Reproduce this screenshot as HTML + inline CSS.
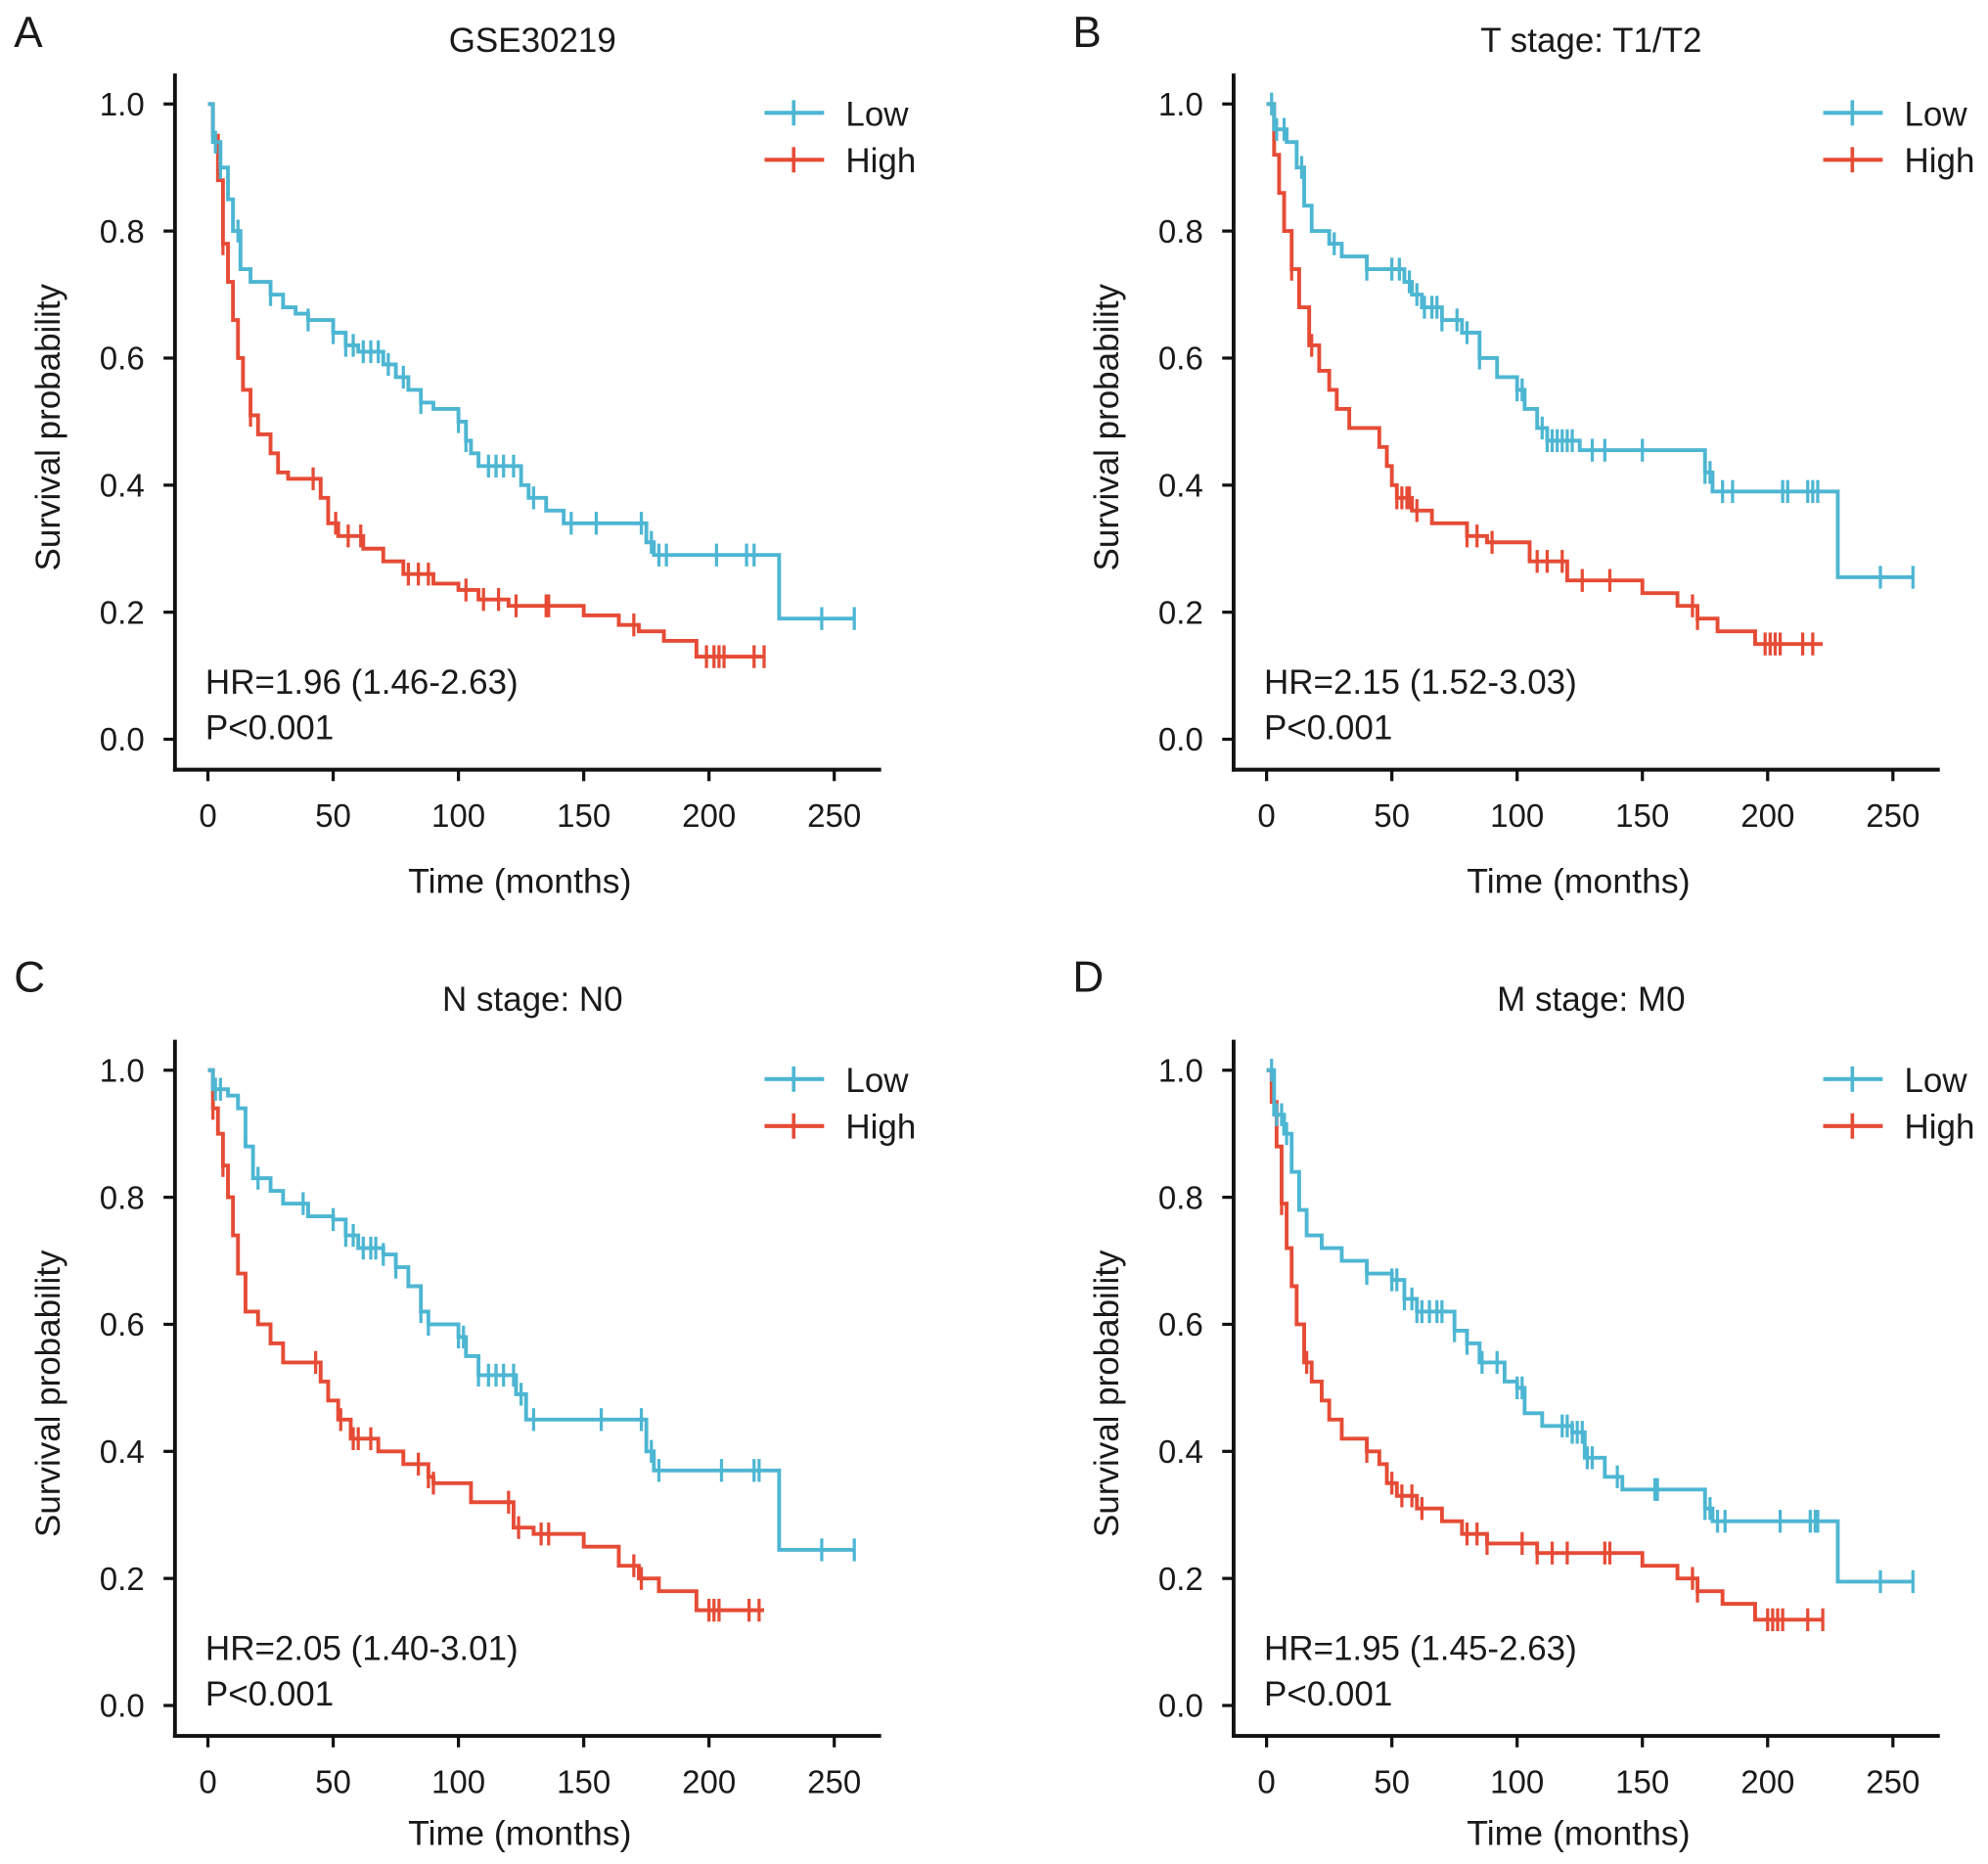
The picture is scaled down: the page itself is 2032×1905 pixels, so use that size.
<!DOCTYPE html>
<html><head><meta charset="utf-8"><style>
html,body{margin:0;padding:0;background:#fff;}
svg{display:block;}
text{font-family:"Liberation Sans",Arial,sans-serif;fill:#1a1a1a;}
</style></head><body>
<svg id="fig" width="2032" height="1905" viewBox="0 0 1568 1470" preserveAspectRatio="none" xmlns="http://www.w3.org/2000/svg"></svg>
<script>
// ---- data (time in months, survival probability) ----
const xTicks = [0,50,100,150,200,250];
const yTicks = [0.0,0.2,0.4,0.6,0.8,1.0];
const panelLetters = ["A","B","C","D"];
const panelTitles = ["GSE30219","T stage: T1/T2","N stage: N0","M stage: M0"];
const hrLabels = ["HR=1.96 (1.46-2.63)","HR=2.15 (1.52-3.03)","HR=2.05 (1.40-3.01)","HR=1.95 (1.45-2.63)"];
const pLabels = ["P<0.001","P<0.001","P<0.001","P<0.001"];

const aLowT = [0,2,5,8,10,13,17,25,30,35,40,50,55,60,70,75,80,85,90,100,103,105,108,125,128,135,142,175,178,228];
const aLowS = [1,0.94,0.90,0.85,0.80,0.74,0.72,0.70,0.68,0.67,0.66,0.64,0.62,0.61,0.59,0.57,0.55,0.53,0.52,0.50,0.47,0.45,0.43,0.40,0.38,0.36,0.34,0.31,0.29,0.19];
const aLowEnd = 258;
const aLowC = [3,5,12,25,40,50,55,58,62,65,68,72,78,85,100,103,112,115,118,122,130,145,155,173,177,180,183,203,215,218,245,258];
const aHighT = [0,2,4,6,8,10,12,14,17,20,25,28,32,45,48,52,62,70,78,90,100,108,120,150,164,172,182,195];
const aHighS = [1,0.95,0.88,0.78,0.72,0.66,0.60,0.55,0.51,0.48,0.45,0.42,0.41,0.38,0.34,0.32,0.30,0.28,0.26,0.245,0.235,0.22,0.21,0.195,0.18,0.17,0.155,0.13];
const aHighEnd = 222;
const aHighC = [6,17,42,51,56,61,80,84,88,103,110,116,123,135,136,170,199,202,204,206,218,222];

const bLowT = [0,3,8,12,15,18,25,30,40,55,58,62,70,78,85,92,100,103,108,112,125,175,178,228];
const bLowS = [1,0.96,0.94,0.90,0.84,0.80,0.78,0.76,0.74,0.72,0.70,0.68,0.66,0.64,0.60,0.57,0.55,0.52,0.49,0.47,0.455,0.42,0.39,0.255];
const bLowEnd = 258;
const bLowC = [2,4,7,14,27,40,50,53,57,60,63,66,68,70,76,80,85,100,102,110,112,114,116,118,120,122,130,135,150,175,177,182,186,206,208,216,218,220,245,258];
const bHighT = [0,3,5,7,10,13,17,21,25,28,33,45,48,50,52,58,66,80,88,105,120,150,164,172,180,195];
const bHighS = [1,0.92,0.86,0.80,0.74,0.68,0.62,0.58,0.55,0.52,0.49,0.46,0.43,0.40,0.38,0.36,0.34,0.32,0.31,0.28,0.25,0.23,0.21,0.19,0.17,0.15];
const bHighEnd = 222;
const bHighC = [10,18,52,54,56,57,60,80,84,90,108,112,118,126,137,170,172,199,201,203,205,214,218];

const cLowT = [0,2,8,12,15,18,25,30,40,50,55,60,70,75,80,85,88,100,103,108,123,127,175,178,228];
const cLowS = [1,0.97,0.96,0.94,0.88,0.83,0.81,0.79,0.77,0.765,0.74,0.72,0.71,0.69,0.66,0.62,0.60,0.58,0.55,0.52,0.49,0.45,0.40,0.37,0.245];
const cLowEnd = 258;
const cLowC = [3,5,20,38,50,55,58,62,65,67,70,75,85,88,100,102,108,112,115,118,122,125,130,157,173,177,180,205,218,220,245,258];
const cHighT = [0,2,4,6,8,10,12,15,20,25,30,45,48,52,57,68,78,88,90,105,122,130,150,164,172,180,195];
const cHighS = [1,0.94,0.90,0.85,0.80,0.74,0.68,0.62,0.60,0.57,0.54,0.51,0.48,0.45,0.42,0.40,0.38,0.36,0.35,0.32,0.28,0.27,0.25,0.22,0.20,0.18,0.15];
const cHighEnd = 222;
const cHighC = [2,6,43,53,58,60,65,84,88,90,120,124,133,136,170,173,200,202,204,216,220];

const dLowT = [0,3,7,10,13,16,22,30,40,50,55,60,75,80,85,95,100,103,110,122,127,135,142,175,178,228];
const dLowS = [1,0.93,0.90,0.84,0.78,0.74,0.72,0.70,0.68,0.67,0.64,0.62,0.59,0.57,0.54,0.51,0.50,0.46,0.44,0.43,0.39,0.36,0.34,0.31,0.29,0.195];
const dLowEnd = 258;
const dLowC = [2,4,6,8,40,50,52,55,58,60,62,65,68,70,75,80,86,92,100,102,118,120,122,124,126,128,130,140,155,156,175,177,180,183,205,217,219,220,245,258];
const dHighT = [0,2,4,6,8,10,12,15,18,22,25,30,40,45,48,52,60,70,78,88,108,150,164,172,182,195];
const dHighS = [1,0.95,0.88,0.79,0.72,0.66,0.60,0.54,0.51,0.48,0.45,0.42,0.40,0.38,0.35,0.33,0.31,0.29,0.27,0.255,0.24,0.22,0.20,0.18,0.16,0.135];
const dHighEnd = 222;
const dHighC = [6,16,40,50,54,58,62,80,84,88,102,108,114,120,135,137,170,172,200,202,204,206,216,222];

const lowSeries = [[aLowT,aLowS,aLowEnd,aLowC],[bLowT,bLowS,bLowEnd,bLowC],[cLowT,cLowS,cLowEnd,cLowC],[dLowT,dLowS,dLowEnd,dLowC]];
const highSeries = [[aHighT,aHighS,aHighEnd,aHighC],[bHighT,bHighS,bHighEnd,bHighC],[cHighT,cHighS,cHighEnd,cHighC],[dHighT,dHighS,dHighEnd,dHighC]];

// ---- layout ----
const LOW = "#4db6d3", HIGH = "#e64b35";
const origins = [[138,607],[973,607],[138,1369],[973,1369]];
const letterDy = [-570,-570,-587,-587];
const titleDy = [-566,-566,-572,-572];
const xTitleDy = [97,97,86,86];
const NS = "http://www.w3.org/2000/svg";
const svg = document.getElementById("fig");
function mk(tag, attrs, parent){
  const e = document.createElementNS(NS, tag);
  for (const k in attrs) e.setAttribute(k, attrs[k]);
  (parent||svg).appendChild(e);
  return e;
}
function stepAt(T,S,t){let s=S[0];for(let i=0;i<T.length;i++){if(T[i]<=t)s=S[i];}return s;}

for (let p=0;p<4;p++){
  const [ox,oy] = origins[p];
  const xs = t => ox + 26 + t*1.976;
  const ys = s => oy - 24 - s*501;
  const g = mk("g",{});
  
  

  const letter = mk("text",{x:ox-127,y:oy+letterDy[p],"font-size":34},g);
  letter.textContent = panelLetters[p];
  
  

  const title = mk("text",{x:ox+282,y:oy+titleDy[p],"font-size":27,"text-anchor":"middle"},g);
  title.textContent = panelTitles[p];
  
  

  const yax = mk("line",{x1:ox,y1:oy-549,x2:ox,y2:oy+1.5,stroke:"#111","stroke-width":3},g);
  
  
  const xax = mk("line",{x1:ox-1.5,y1:oy,x2:ox+557,y2:oy,stroke:"#111","stroke-width":3},g);
  
  

  yTicks.forEach(v=>{
    const y = ys(v);
    const tk = mk("line",{x1:ox-9,y1:y,x2:ox,y2:y,stroke:"#111","stroke-width":2.5},g);
    
    
    const tl = mk("text",{x:ox-24,y:y+9,"font-size":25.5,"text-anchor":"end"},g);
    tl.textContent = v.toFixed(1);
    
    
  });
  xTicks.forEach(v=>{
    const x = xs(v);
    const tk = mk("line",{x1:x,y1:oy,x2:x,y2:oy+9,stroke:"#111","stroke-width":2.5},g);
    
    
    const tl = mk("text",{x:x,y:oy+45,"font-size":25.5,"text-anchor":"middle"},g);
    tl.textContent = v;
    
    
  });
  const xt = mk("text",{x:ox+272,y:oy+xTitleDy[p],"font-size":27.5,"text-anchor":"middle"},g);
  xt.textContent = "Time (months)";
  
  
  const yt = mk("text",{x:0,y:0,"font-size":27,"text-anchor":"middle",transform:`translate(${ox-91},${oy-270}) rotate(-90)`},g);
  yt.textContent = "Survival probability";
  
  

  [[highSeries[p],HIGH,"high"],[lowSeries[p],LOW,"low"]].forEach(([ser,col,nm])=>{
    const [T,S,end,C] = ser;
    let d = `M${xs(T[0])},${ys(S[0])}`;
    for (let i=1;i<T.length;i++){ d += ` H${xs(T[i])} V${ys(S[i])}`; }
    d += ` H${xs(end)}`;
    const path = mk("path",{d:d,fill:"none",stroke:col,"stroke-width":3},g);
    
    
    C.forEach(t=>{
      const x = xs(t), y = ys(stepAt(T,S,t));
      const cm = mk("line",{x1:x,y1:y-9,x2:x,y2:y+9,stroke:col,"stroke-width":2.5},g);
      
      
    });
  });

  // legend
  [["Low",LOW,0],["High",HIGH,1]].forEach(([lab,col,i])=>{
    const ly = oy-518+i*37;
    const lg = mk("g",{},g);
    
    
    mk("line",{x1:ox+465,y1:ly,x2:ox+512,y2:ly,stroke:col,"stroke-width":3.2},lg);
    mk("line",{x1:ox+488,y1:ly-10,x2:ox+488,y2:ly+10,stroke:col,"stroke-width":2.8},lg);
    const t = mk("text",{x:ox+529,y:ly+10,"font-size":27},lg);
    t.textContent = lab;
  });

  const hr = mk("text",{x:ox+24,y:oy-60,"font-size":27},g);
  hr.textContent = hrLabels[p];
  
  
  const pv = mk("text",{x:ox+24,y:oy-24,"font-size":27},g);
  pv.textContent = pLabels[p];
  
  
}
</script>
</body></html>
